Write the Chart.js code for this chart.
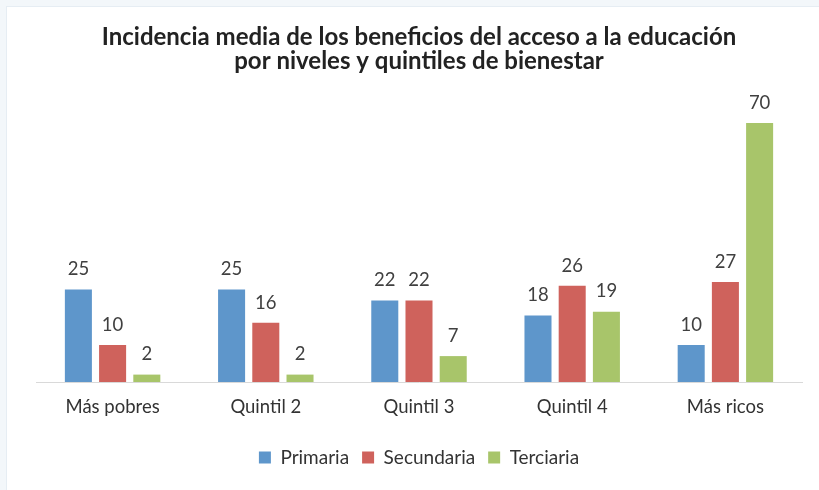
<!DOCTYPE html>
<html>
<head>
<meta charset="utf-8">
<script src="https://cdn.jsdelivr.net/npm/chart.js@4"></script>
<style>
  html, body { margin: 0; padding: 0; background: #f3f7fa; }
  #card {
    position: absolute; left: 6px; top: 6px; width: 820px; height: 490px;
    background: #fff; border-left: 1px solid #e6edf3; border-top: 1px solid #e6edf3;
  }
  #wrap { position: absolute; left: 0; top: 0; width: 819px; height: 490px; }
</style>
</head>
<body>
<div id="card"></div>
<div id="wrap"><canvas id="chart"></canvas></div>
<script>
// Data
const categories = ['Más pobres', 'Quintil 2', 'Quintil 3', 'Quintil 4', 'Más ricos'];
const primaria = [25, 25, 22, 18, 10];
const secundaria = [10, 16, 22, 26, 27];
const terciaria = [2, 2, 7, 19, 70];

const FONT = 'Lato, "Noto Sans", sans-serif';

// Value labels above each bar
const barLabels = {
  id: 'barLabels',
  afterDatasetsDraw(chart) {
    const ctx = chart.ctx;
    ctx.save();
    ctx.font = '18.5px ' + FONT;
    ctx.fillStyle = '#404040';
    ctx.textAlign = 'center';
    ctx.textBaseline = 'bottom';
    chart.data.datasets.forEach((ds, i) => {
      chart.getDatasetMeta(i).data.forEach((bar, j) => {
        ctx.fillText(ds.data[j], bar.x, bar.y - 11);
      });
    });
    ctx.restore();
  }
};

const ctx = document.getElementById('chart').getContext('2d');
new Chart(ctx, {
  type: 'bar',
  data: {
    labels: categories,
    datasets: [
      { label: 'Primaria', data: primaria, backgroundColor: '#5e96cb' },
      { label: 'Secundaria', data: secundaria, backgroundColor: '#cf625c' },
      { label: 'Terciaria', data: terciaria, backgroundColor: '#a8c56a' }
    ]
  },
  options: {
    responsive: true,
    maintainAspectRatio: false,
    animation: false,
    categoryPercentage: 0.67,
    barPercentage: 0.79,
    layout: { padding: { left: 36, right: 17, top: 0, bottom: 13 } },
    scales: {
      x: {
        grid: { display: false, drawTicks: false },
        border: { display: true, color: '#d9d9d9', width: 1 },
        ticks: { color: '#333', font: { family: FONT, size: 18.5 }, padding: 14 },
        afterFit(scale) { scale.height = 53; }
      },
      y: { display: false, min: 0, max: 80 }
    },
    plugins: {
      title: {
        display: true,
        text: ['Incidencia media de los beneficios del acceso a la educación', 'por niveles y quintiles de bienestar'],
        color: '#222',
        font: { family: FONT, size: 24, weight: 'bold', lineHeight: 1.0 },
        padding: { top: 25, bottom: 13 }
      },
      legend: {
        position: 'bottom',
        labels: {
          color: '#333',
          font: { family: FONT, size: 19 },
          boxWidth: 12,
          boxHeight: 12,
          padding: 13
        }
      },
      tooltip: { enabled: false }
    }
  },
  plugins: [barLabels]
});
</script>
</body>
</html>
